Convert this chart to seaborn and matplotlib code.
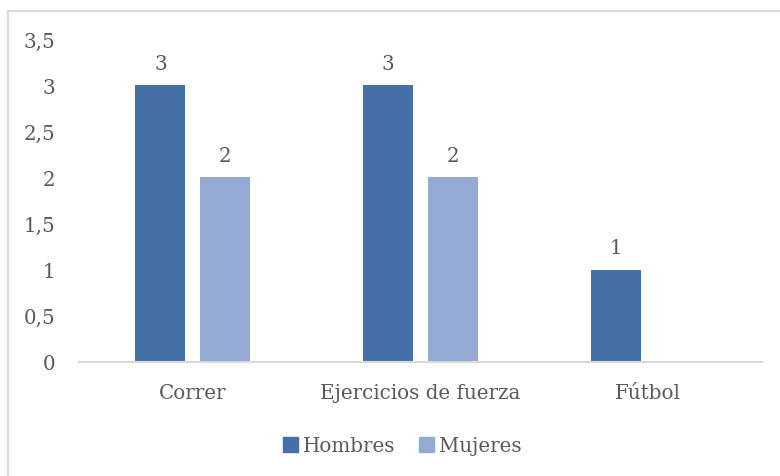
import matplotlib
matplotlib.use("Agg")
import matplotlib.pyplot as plt
from matplotlib.patches import Rectangle
import seaborn as sns
import pandas as pd

categorias = ["Correr", "Ejercicios de fuerza", "Fútbol"]
hombres = [3, 3, 1]
mujeres = [2, 2, 0]
series = ["Hombres", "Mujeres"]
yticks = [0, 0.5, 1, 1.5, 2, 2.5, 3, 3.5]

colores = {"Hombres": "#4472A8", "Mujeres": "#95AAD3"}
gris = "#595959"

df = pd.DataFrame({
    "actividad": categorias * 2,
    "valor": hombres + mujeres,
    "sexo": [series[0]] * len(categorias) + [series[1]] * len(categorias),
})

sns.set_style("white")
plt.rcParams["font.family"] = ["DejaVu Serif"]

fig = plt.figure(figsize=(7.8, 4.77), dpi=100)
ax = fig.add_axes([79 / 780, (477 - 363) / 477, (762 - 79) / 780, (363 - 40) / 477])

sns.barplot(
    data=df, x="actividad", y="valor", hue="sexo",
    palette=colores, width=0.57, gap=0.23, ax=ax,
    saturation=1, legend=False, linewidth=0,
)

for cont in ax.containers:
    etiquetas = [f"{v:g}" if v > 0 else "" for v in cont.datavalues]
    ax.bar_label(cont, labels=etiquetas, padding=9, fontsize=14.3, color=gris)

ax.set_ylim(0, 3.5)
ax.set_yticks(yticks)
ax.set_yticklabels([f"{t:g}".replace(".", ",") for t in yticks])
ax.set_xlabel("")
ax.set_ylabel("")
ax.tick_params(axis="both", length=0, labelsize=14.3, colors=gris)
ax.tick_params(axis="x", pad=15)
ax.tick_params(axis="y", pad=17)
for s in ["top", "right", "left"]:
    ax.spines[s].set_visible(False)
ax.spines["bottom"].set_color("#D9D9D9")
ax.spines["bottom"].set_linewidth(1.5)

handles = [Rectangle((0, 0), 1, 1, color=colores[s]) for s in series]
fig.legend(handles, series, loc="center", bbox_to_anchor=(402 / 780, 1 - 447 / 477),
           ncol=2, frameon=False, fontsize=14.3, labelcolor=gris,
           handlelength=0.75, handleheight=0.75, handletextpad=0.25, columnspacing=1.2)

fig.patches.append(Rectangle((8 / 780, -0.1), 1.0, (477 - 12) / 477 + 0.1,
                             transform=fig.transFigure, fill=False,
                             edgecolor="#D9D9D9", linewidth=1.5))

fig.savefig("out.png", dpi=100)
